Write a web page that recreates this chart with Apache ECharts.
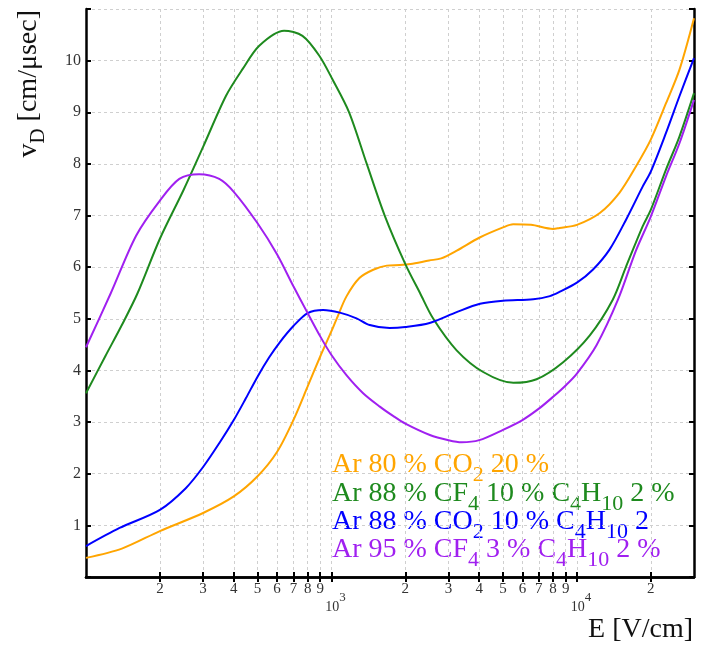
<!DOCTYPE html>
<html>
<head>
<meta charset="utf-8">
<script src="https://cdn.jsdelivr.net/npm/echarts@6.0.0/dist/echarts.min.js"></script>
<style>
  html, body { margin: 0; padding: 0; background: #fff; }
  #chart { width: 702px; height: 645px; }
</style>
</head>
<body>
<div id="chart"></div>
<script>
// E [V/cm] and drift velocity [cm/usec]
const eOrange = [100, 140, 200, 300, 400, 500, 600, 700, 800, 900, 1000, 1050, 1150, 1300, 1480, 1680, 1900, 2100, 2500, 2800, 3240, 4000, 5000, 5500, 6500, 8000, 8500, 10000, 12400, 14900, 17400, 20000, 23100, 26200, 30000]
const vOrange = [0.37, 0.55, 0.89, 1.24, 1.56, 1.95, 2.42, 3.04, 3.69, 4.27, 4.76, 5.0, 5.43, 5.79, 5.95, 6.03, 6.04, 6.06, 6.13, 6.17, 6.32, 6.57, 6.77, 6.83, 6.82, 6.74, 6.76, 6.82, 7.05, 7.44, 7.95, 8.47, 9.18, 9.83, 10.82]

const eGreen = [100, 120, 140, 162, 200, 250, 300, 372, 435, 508, 641, 762, 891, 1009, 1180, 1393, 1648, 2000, 2295, 2600, 3236, 4150, 5508, 6850, 8790, 11290, 14000, 15860, 18530, 20000, 23070, 26170, 30000]
const vGreen = [3.56, 4.28, 4.88, 5.49, 6.55, 7.5, 8.33, 9.32, 9.84, 10.29, 10.58, 10.48, 10.10, 9.64, 9.0, 8.0, 7.0, 6.06, 5.50, 5.0, 4.39, 3.97, 3.76, 3.83, 4.16, 4.68, 5.37, 6.01, 6.79, 7.11, 7.89, 8.53, 9.37]

const eBlue = [100, 137, 200, 255, 300, 349, 400, 448, 500, 557, 617, 700, 800, 925, 1081, 1265, 1432, 1726, 2000, 2512, 3236, 4030, 5000, 6640, 7760, 8490, 10000, 11610, 13580, 15860, 18530, 20000, 23070, 26170, 30000]
const vBlue = [0.60, 0.95, 1.30, 1.72, 2.13, 2.59, 3.04, 3.46, 3.88, 4.25, 4.55, 4.86, 5.11, 5.17, 5.12, 5.01, 4.88, 4.82, 4.84, 4.92, 5.13, 5.29, 5.35, 5.38, 5.44, 5.52, 5.70, 5.95, 6.34, 6.92, 7.56, 7.85, 8.60, 9.31, 10.05]

const ePurple = [100, 126, 160, 200, 240, 289, 349, 400, 500, 600, 700, 800, 900, 1000, 1151, 1346, 1574, 1782, 2000, 2518, 3000, 3390, 4000, 5000, 6000, 7000, 8000, 9000, 10000, 12020, 14700, 17400, 20000, 23070, 26170, 30000]
const vPurple = [4.45, 5.49, 6.61, 7.29, 7.71, 7.80, 7.71, 7.46, 6.85, 6.25, 5.63, 5.11, 4.66, 4.30, 3.91, 3.56, 3.30, 3.12, 2.97, 2.75, 2.65, 2.61, 2.65, 2.85, 3.04, 3.26, 3.49, 3.71, 3.94, 4.49, 5.37, 6.32, 6.98, 7.76, 8.40, 9.24]

const seriesNames = ['Ar 80 % CO2 20 %', 'Ar 88 % CF4 10 % C4H10 2 %', 'Ar 88 % CO2 10 % C4H10 2', 'Ar 95 % CF4 3 % C4H10 2 %']
const legendLabels = [
  'Ar 80 % CO{s|2} 20 %',
  'Ar 88 % CF{s|4} 10 % C{s|4}H{s|10} 2 %',
  'Ar 88 % CO{s|2} 10 % C{s|4}H{s|10} 2',
  'Ar 95 % CF{s|4} 3 % C{s|4}H{s|10} 2 %'
]
const colors = ['#FFA500', '#1E8A1E', '#0000FF', '#A020F0']

const xTicks = [200, 300, 400, 500, 600, 700, 800, 900, 1000, 2000, 3000, 4000, 5000, 6000, 7000, 8000, 9000, 10000, 20000]

const serif = '"Liberation Serif", "DejaVu Serif", serif'

let chart = echarts.init(document.getElementById('chart'))

function zip(xs, ys) {
  return xs.map((x, i) => [x, ys[i]])
}

// every label gets the same 32px tall line (spacer g), so digits and powers line up alike
function xLabel(val) {
  let e = Math.log10(val)
  let r = Math.round(e)
  if (Math.abs(e - r) < 1e-6) return '{g| }{b|10}{s|' + r + '}'
  return '{g| }{d|' + Math.round(val / Math.pow(10, Math.floor(e + 1e-9))) + '}'
}

const frame = { lineStyle: { color: '#000', width: 2.5 } }
const tick = { inside: true, length: 5, lineStyle: { color: '#000', width: 2 } }
const grid = { show: true, lineStyle: { color: '#cfcfcf', width: 1, type: [3, 3] } }

let xBase = { type: 'log', logBase: 10, min: 100, max: 30000 }

let option = {
  animation: false,
  grid: { left: 86, right: 8, top: 9, bottom: 68, containLabel: false },
  xAxis: [
    Object.assign({}, xBase, {
      position: 'bottom',
      axisLine: frame,
      axisTick: Object.assign({ customValues: xTicks }, tick),
      splitLine: grid,
      axisLabel: {
        customValues: xTicks,
        formatter: xLabel,
        margin: 5,
        fontSize: 15,
        color: '#333',
        fontFamily: serif,
        rich: {
          g: { fontSize: 2, lineHeight: 32, width: 8 },
          d: { fontSize: 15, lineHeight: 15, verticalAlign: 'top', fontFamily: serif, color: '#333', padding: [0, 8, 0, 0] },
          b: { fontSize: 14, lineHeight: 14, verticalAlign: 'bottom', fontFamily: serif, color: '#333' },
          s: { fontSize: 13, lineHeight: 13, verticalAlign: 'middle', fontFamily: serif, color: '#333' }
        }
      }
    }),
    Object.assign({}, xBase, {
      position: 'top',
      axisLine: frame,
      axisTick: Object.assign({ customValues: xTicks }, tick),
      splitLine: { show: false },
      axisLabel: { show: false }
    })
  ],
  yAxis: [
    {
      type: 'value', min: 0, max: 11, interval: 1, position: 'left',
      axisLine: frame,
      axisTick: tick,
      splitLine: grid,
      axisLabel: {
        margin: 5,
        fontSize: 16,
        color: '#333',
        fontFamily: serif,
        formatter: v => (v === 0 || v === 11) ? '' : String(v)
      }
    },
    {
      type: 'value', min: 0, max: 11, interval: 1, position: 'right',
      axisLine: frame,
      axisTick: tick,
      splitLine: { show: false },
      axisLabel: { show: false }
    }
  ],
  series: [
    [eOrange, vOrange],
    [eGreen, vGreen],
    [eBlue, vBlue],
    [ePurple, vPurple]
  ].map((d, i) => ({
    name: seriesNames[i],
    type: 'line',
    data: zip(d[0], d[1]),
    smooth: 0.3,
    showSymbol: false,
    lineStyle: { color: colors[i], width: 2 },
    itemStyle: { color: colors[i] }
  })),
  graphic: [
    {
      type: 'text', x: 29, y: 10, rotation: Math.PI / 2,
      style: {
        text: 'v{d|D} [cm/μsec]',
        fill: '#111', fontSize: 28, lineHeight: 32, fontFamily: serif,
        align: 'right', verticalAlign: 'middle',
        rich: { d: { fontSize: 21, lineHeight: 21, padding: [18, 0, 0, 0], fontFamily: serif } }
      }
    },
    {
      type: 'text', x: 693, y: 630,
      style: {
        text: 'E [V/cm]', fill: '#111', fontSize: 28, fontFamily: serif,
        align: 'right', verticalAlign: 'middle'
      }
    }
  ].concat(legendLabels.map((t, i) => ({
    type: 'text', x: 332, y: [465, 494, 522, 550][i],
    style: {
      text: t, fill: colors[i], fontSize: 28, lineHeight: 32, fontFamily: serif,
      align: 'left', verticalAlign: 'middle',
      rich: { s: { fontSize: 22, lineHeight: 22, padding: [21, 0, 0, 0], fontFamily: serif } }
    }
  })))
}

chart.setOption(option)
</script>
</body>
</html>
